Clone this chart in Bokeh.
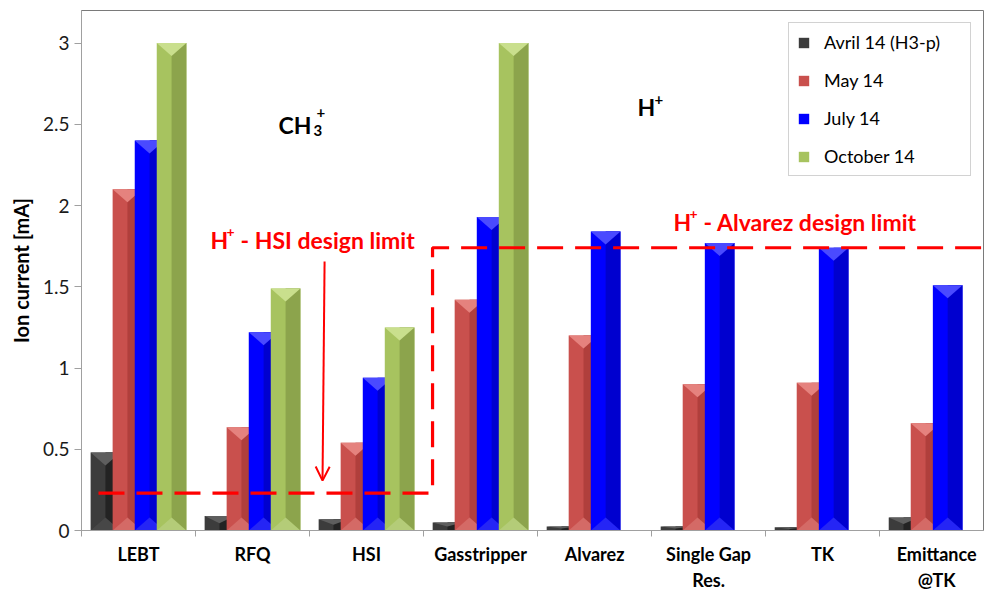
from bokeh.plotting import figure
from bokeh.models import (Range1d, FixedTicker, NumeralTickFormatter, Label, Arrow,
                          OpenHead, Legend, LegendItem, ColumnDataSource)
from bokeh.embed import file_html
from bokeh.resources import INLINE

# ---------------- data ----------------
categories = ["LEBT", "RFQ", "HSI", "Gasstripper", "Alvarez",
              "Single Gap\nRes.", "TK", "Emittance\n@TK"]
series_names = ["Avril 14 (H3-p)", "May 14", "July 14", "October 14"]
april_14 = [0.48, 0.09, 0.07, 0.05, 0.025, 0.025, 0.02, 0.08]
may_14 = [2.10, 0.635, 0.54, 1.42, 1.20, 0.90, 0.91, 0.66]
july_14 = [2.40, 1.22, 0.94, 1.93, 1.84, 1.77, 1.74, 1.51]
october_14 = [3.00, 1.49, 1.25, 3.00, None, None, None, None]
y_ticks = [0, 0.5, 1, 1.5, 2, 2.5, 3]
hsi_limit = 0.23
alvarez_limit = 1.74

# ---------------- style ----------------
FONT = "Lato"
light = ["#3c3c3c", "#c9504d", "#0000ff", "#a7c35f"]
dark = ["#232323", "#b03f3c", "#0000cf", "#8ca44c"]
tops = ["#5e5e5e", "#e5827e", "#4a4aff", "#c9df8d"]
bottoms = ["#474747", "#d46a66", "#2525f5", "#b4cc78"]
offsets = [-0.29, -0.097, 0.097, 0.29]
bar_w = 0.26
tri_depth = 0.08

p = figure(width=984, height=593, x_range=Range1d(0, 7.92), y_range=Range1d(0, 3.2),
           output_backend="svg", toolbar_location=None,
           min_border_left=81, min_border_right=0, min_border_top=10, min_border_bottom=61)
p.xgrid.visible = False
p.ygrid.visible = False
p.outline_line_color = "#7a7a7a"
p.outline_line_width = 1
p.background_fill_color = "white"
p.border_fill_color = "white"

all_series = [april_14, may_14, july_14, october_14]
legend_items = []
for s, vals in enumerate(all_series):
    xs, tops_y = [], []
    for i, v in enumerate(vals):
        if v is None:
            continue
        xs.append(i + 0.5 + offsets[s])
        tops_y.append(v)
    src = ColumnDataSource(dict(x=xs, top=tops_y,
                                xr=[x + bar_w / 4 for x in xs]))
    r = p.vbar(x="x", top="top", width=bar_w, source=src, fill_color=light[s],
               line_color=None)
    p.vbar(x="xr", top="top", width=bar_w / 2, source=src, fill_color=dark[s],
           line_color=None)
    txs, tys, bxs, bys = [], [], [], []
    for x, t in zip(xs, tops_y):
        d = min(tri_depth, t * 0.5)
        txs.append([x - bar_w / 2, x + bar_w / 2, x])
        tys.append([t, t, t - d])
        if t > 0.3:
            bxs.append([x - bar_w / 2, x + bar_w / 2, x])
            bys.append([0, 0, tri_depth])
    p.patches(txs, tys, fill_color=tops[s], line_color=None)
    if bxs:
        p.patches(bxs, bys, fill_color=bottoms[s], line_color=None)
    legend_items.append(LegendItem(label=series_names[s], renderers=[r]))

# design-limit dashed path
p.line([0.149, 3.079, 3.079, 7.95], [hsi_limit, hsi_limit, alvarez_limit, alvarez_limit],
       line_color="#ff0000", line_width=3.2, line_dash="26 12")

# arrow
p.add_layout(Arrow(x_start=2.132, y_start=1.655, x_end=2.114, y_end=0.307,
                   line_color="#ff0000", line_width=2,
                   end=OpenHead(size=14, line_color="#ff0000", line_width=2)))

# ---------------- axes ----------------
yax = p.yaxis[0]
yax.ticker = FixedTicker(ticks=y_ticks)
yax.formatter = NumeralTickFormatter(format="0.[0]")
yax.axis_line_color = "#a0a0a0"
yax.major_tick_line_color = "#a0a0a0"
yax.major_tick_out = 7
yax.major_tick_in = 0
yax.minor_tick_line_color = None
yax.major_label_text_font = FONT
yax.major_label_text_font_size = "19px"
yax.major_label_text_color = "#1a1a1a"
yax.major_label_standoff = 5
yax.axis_label = "Ion current [mA]"
yax.axis_label_text_font = FONT
yax.axis_label_text_font_style = "bold"
yax.axis_label_text_font_size = "20px"
yax.axis_label_text_color = "#000000"
yax.axis_label_standoff = 7

centers = [i + 0.5 for i in range(len(categories))]
xax = p.xaxis[0]
xax.ticker = FixedTicker(ticks=centers, minor_ticks=list(range(len(categories) + 1)))
xax.major_label_overrides = {c: lab for c, lab in zip(centers, categories)}
xax.axis_line_color = "#a0a0a0"
xax.major_tick_line_color = None
xax.major_tick_out = 0
xax.major_tick_in = 0
xax.minor_tick_line_color = "#a0a0a0"
xax.minor_tick_out = 6
xax.minor_tick_in = 0
xax.major_label_text_font = FONT
xax.major_label_text_font_style = "bold"
xax.major_label_text_font_size = "18px"
xax.major_label_text_color = "#000000"
xax.major_label_standoff = 6

# ---------------- legend ----------------
legend = Legend(items=legend_items, location=(707, 354), orientation="vertical",
                border_line_color="#a6a6a6", border_line_width=1,
                background_fill_color="white", background_fill_alpha=1,
                padding=8, spacing=16, margin=0,
                label_height=13, glyph_height=13, glyph_width=13, label_standoff=14,
                label_width=138, label_text_font=FONT, label_text_font_size="18px",
                label_text_color="#000000")
p.add_layout(legend)

# ---------------- annotations ----------------
def lab(x, y, text, size, color="#000000", xo=0, yo=0):
    p.add_layout(Label(x=x, y=y, text=text, x_offset=xo, y_offset=yo,
                       text_font=FONT, text_font_style="bold", text_font_size=size,
                       text_color=color, text_baseline="alphabetic", text_align="left"))

# CH3+
lab(1.728, 2.495, "CH", "23px")
lab(1.728, 2.495, "3", "15px", xo=35, yo=-5)
lab(1.728, 2.495, "+", "15px", xo=38, yo=13)
# H+
lab(4.877, 2.606, "H", "23px")
lab(4.877, 2.606, "+", "15px", xo=17, yo=8)
# H+ - HSI design limit
red = "#ff0000"
lab(1.132, 1.786, "H", "23px", red)
lab(1.132, 1.786, "+", "14px", red, xo=16, yo=8)
lab(1.132, 1.786, "- HSI design limit", "23px", red, xo=30)
# H+ - Alvarez design limit
lab(5.193, 1.90, "H", "23px", red)
lab(5.193, 1.90, "+", "14px", red, xo=16, yo=8)
lab(5.193, 1.90, "- Alvarez design limit", "23px", red, xo=30)

open("out.html", "w").write(file_html(p, INLINE))
